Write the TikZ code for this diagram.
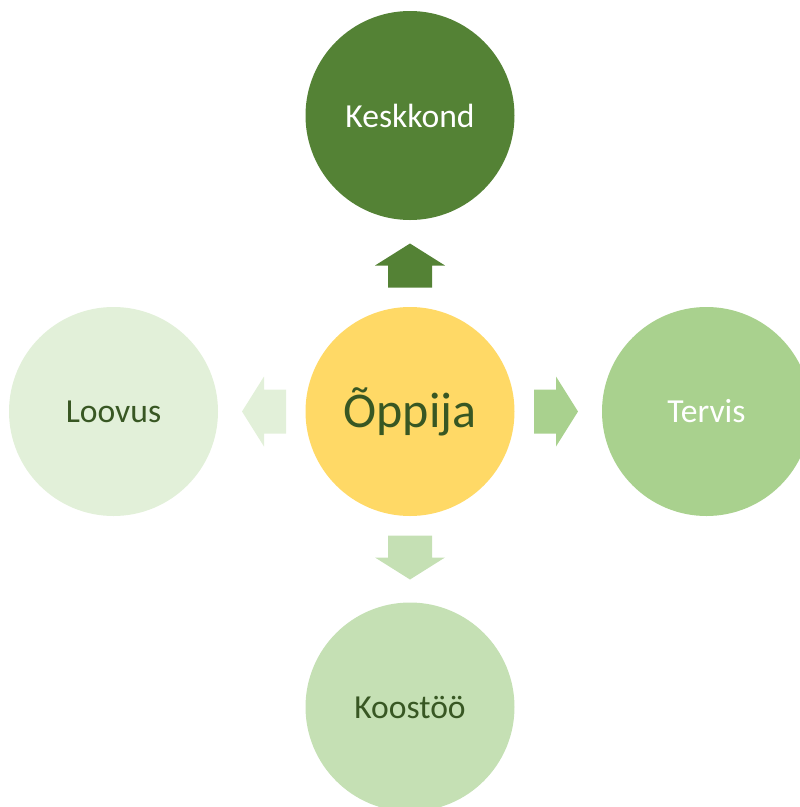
\documentclass[tikz,border=0pt]{standalone}
\usepackage{fontspec}
\setmainfont{Carlito}
\definecolor{kesk}{HTML}{548235}
\definecolor{terv}{HTML}{A9D18E}
\definecolor{koos}{HTML}{C5E0B4}
\definecolor{loov}{HTML}{E2F0D9}
\definecolor{oppi}{HTML}{FFD966}
\definecolor{txt}{HTML}{385723}
\tikzset{
  bubble/.style={circle, inner sep=0pt, minimum size=209pt, font=\fontsize{33.6}{40}\selectfont},
}
\begin{document}
\begin{tikzpicture}[x=1pt,y=-1pt]
\useasboundingbox (0,0) rectangle (800,807);
\clip (0,0) rectangle (800,807);
\node[bubble, fill=oppi, text=txt, font=\fontsize{50}{58}\selectfont] (c) at (410,411.5) {Õppija};
\node[bubble, fill=kesk, text=white] (top) at (410,115.5) {Keskkond};
\node[bubble, fill=terv, text=white] (right) at (706.5,411.5) {Tervis};
\node[bubble, fill=koos, text=txt] (bottom) at (410,707) {Koostöö};
\node[bubble, fill=loov, text=txt] (left) at (113.5,411.5) {Loovus};
\foreach \ang/\col in {90/kesk, 0/terv, 270/koos, 180/loov} {
  \fill[\col, shift={(c.center)}, rotate=\ang]
    (124,-22) -- (146,-22) -- (146,-35) -- (168,0) -- (146,35) -- (146,22) -- (124,22) -- cycle;
}
\end{tikzpicture}
\end{document}
